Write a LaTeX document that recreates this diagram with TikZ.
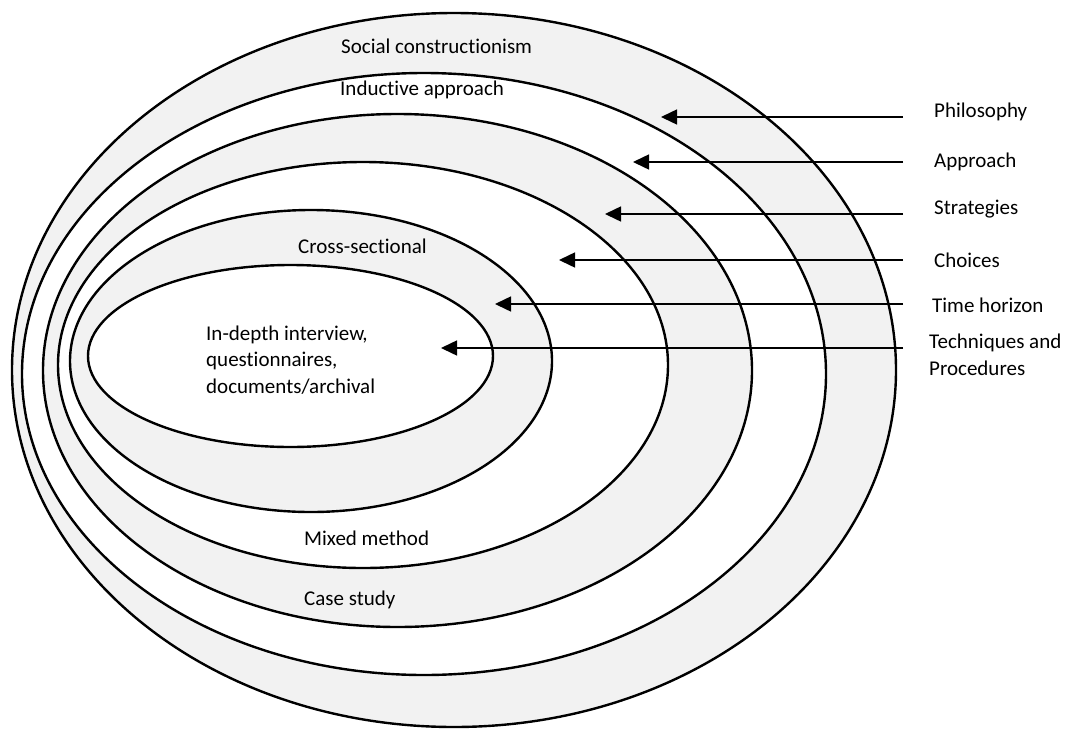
\documentclass[tikz,border=0pt]{standalone}
\usepackage{fontspec}
\setmainfont{Carlito}[Ligatures=NoCommon]
\usetikzlibrary{shapes.geometric,arrows.meta}
\definecolor{ringgray}{HTML}{F2F2F2}
\begin{document}
\begin{tikzpicture}[x=1pt,y=-1pt,
  ring/.style={draw=black,line width=2.4pt,ellipse,inner sep=0pt},
  grayring/.style={ring,fill=ringgray},
  whitering/.style={ring,fill=white},
  lbl/.style={anchor=base west,inner sep=0pt,font=\fontsize{21}{26.5}\selectfont},
  ptr/.style={line width=1.5pt,draw=black,-{Triangle[length=16pt,width=15pt]}}]
\useasboundingbox (0,0) rectangle (1070,731);

% nested layers, outermost first
\node[grayring, minimum width=884pt,minimum height=714pt] (philo)   at (454,370)   {};
\node[whitering,minimum width=804pt,minimum height=602pt] (appr)    at (424,374)   {};
\node[grayring, minimum width=709pt,minimum height=513pt] (strat)   at (397.5,370.5) {};
\node[whitering,minimum width=610pt,minimum height=406pt] (choice)  at (363,365)   {};
\node[grayring, minimum width=482pt,minimum height=302pt] (horizon) at (311,361)   {};
\node[whitering,minimum width=405pt,minimum height=182pt] (techn)   at (290.5,356) {};

% texts inside the layers
\node[lbl] (tSocial) at (341,53)  {Social constructionism};
\node[lbl] (tInduct) at (340,95)  {Inductive approach};
\node[lbl] (tCross)  at (298,253) {Cross-sectional};
\node[lbl] (tInA)    at (206,340) {In-depth interview,};
\node[lbl] (tInB)    at (206,366.5) {questionnaires,};
\node[lbl] (tInC)    at (206,393) {documents/archival};
\node[lbl] (tMixed)  at (304,545) {Mixed method};
\node[lbl] (tCase)   at (304,605) {Case study};

% layer names on the right
\node[lbl] (lPhil)  at (934,117) {Philosophy};
\node[lbl] (lAppr)  at (934,167) {Approach};
\node[lbl] (lStrat) at (934,214) {Strategies};
\node[lbl] (lChoi)  at (934,267) {Choices};
\node[lbl] (lTime)  at (932,312) {Time horizon};
\node[lbl] (lTechA) at (929,348) {Techniques and};
\node[lbl] (lTechB) at (929,375) {Procedures};

% pointer start and end points
\coordinate (sPhil)  at (903,117);  \coordinate (ePhil)  at (661,117);
\coordinate (sAppr)  at (903,162);  \coordinate (eAppr)  at (633,162);
\coordinate (sStrat) at (903,214);  \coordinate (eStrat) at (605,214);
\coordinate (sChoi)  at (903,260);  \coordinate (eChoi)  at (559,260);
\coordinate (sTime)  at (903,304);  \coordinate (eTime)  at (495,304);
\coordinate (sTech)  at (903,348);  \coordinate (eTech)  at (441,348);

\draw[ptr] (sPhil)  -- (ePhil);
\draw[ptr] (sAppr)  -- (eAppr);
\draw[ptr] (sStrat) -- (eStrat);
\draw[ptr] (sChoi)  -- (eChoi);
\draw[ptr] (sTime)  -- (eTime);
\draw[ptr] (sTech)  -- (eTech);
\end{tikzpicture}
\end{document}
